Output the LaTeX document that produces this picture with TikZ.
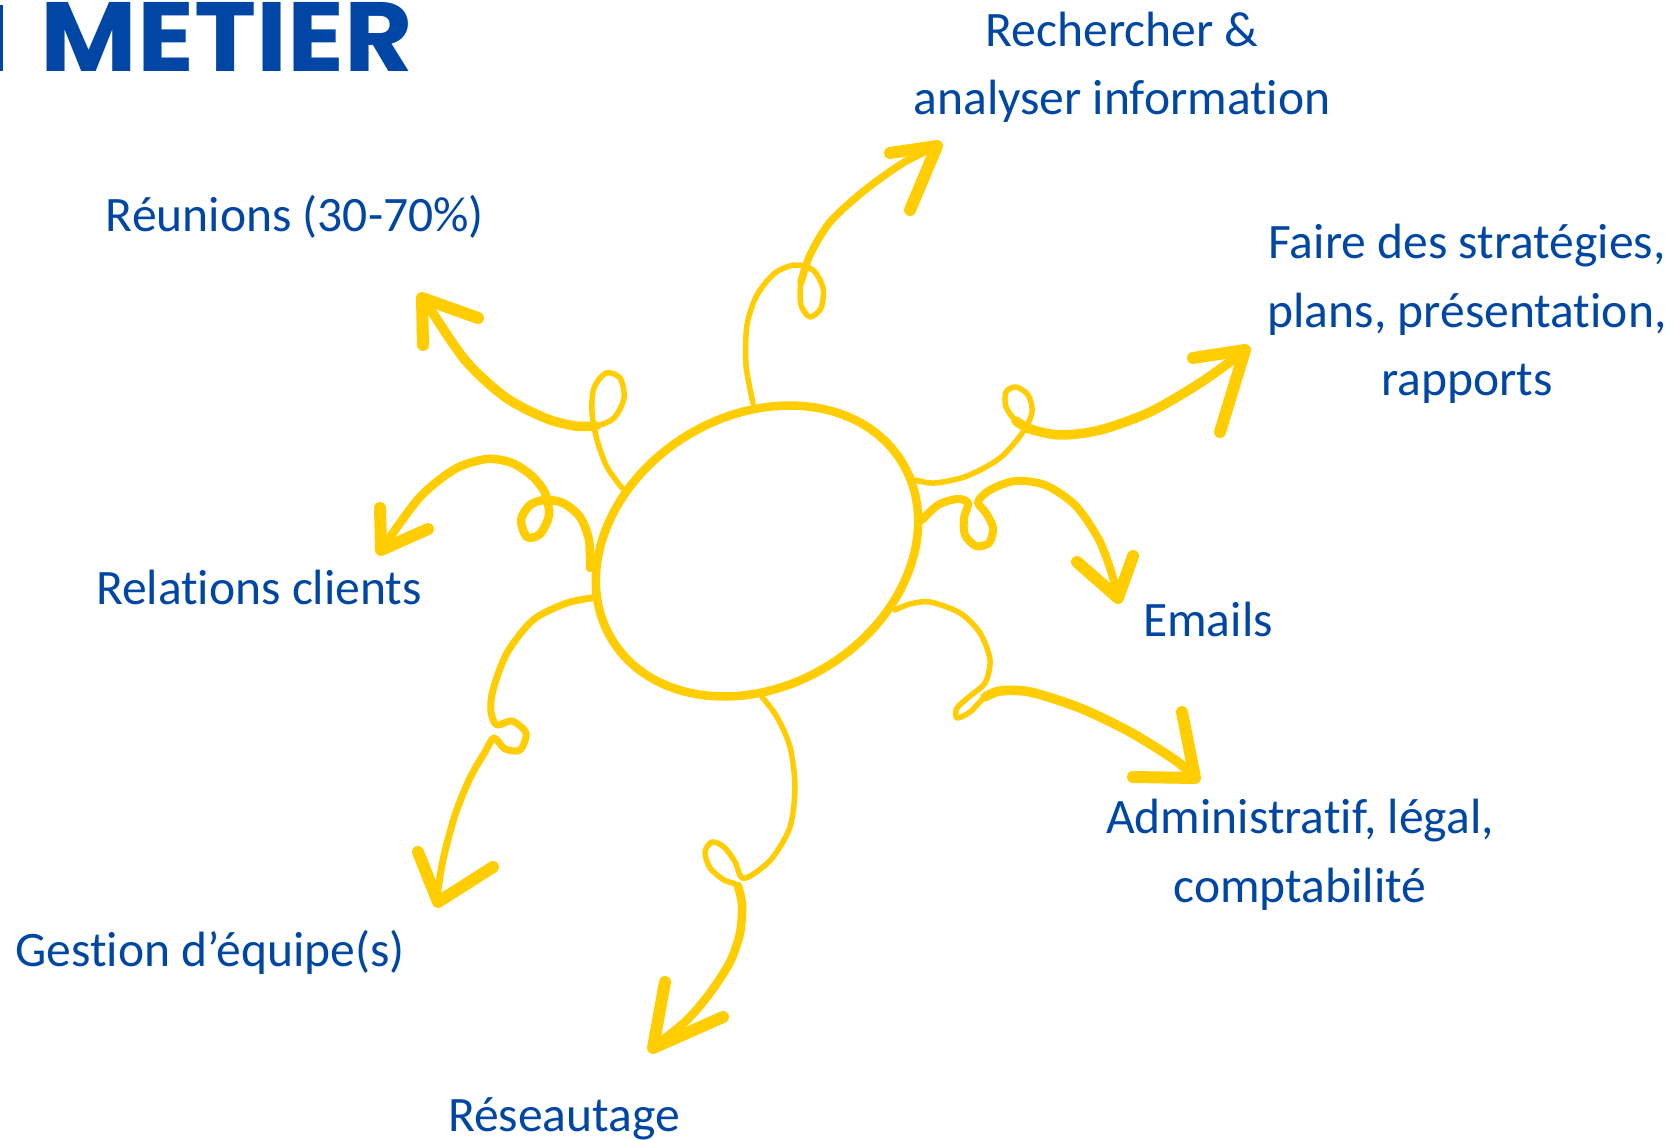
\documentclass[tikz,border=0pt]{standalone}
\usepackage{fontspec}
\setmainfont{Carlito}[Ligatures=NoCommon]
\newfontfamily\titlefont{Poppins}
\usetikzlibrary{positioning}
\definecolor{metierblue}{RGB}{0,71,165}
\definecolor{sunyellow}{RGB}{255,205,0}
\tikzset{
  tasktext/.style={text=metierblue, font=\fontsize{14.1pt}{19.6pt}\selectfont, align=center, inner sep=0pt, anchor=base},
  swirl/.style={draw=sunyellow, line width=0.55mm, line cap=round, line join=round},
  swirl thick/.style={swirl, line width=0.95mm},
  swirl head/.style={swirl, line width=1.2mm},
}
\begin{document}
\begin{tikzpicture}[x=0.1mm, y=-0.1mm]
  \useasboundingbox (0,0) rectangle (1676,1140);
  % title
  \fill[metierblue] (0,5) rectangle (3,71);
  \node[font=\titlefont\bfseries\fontsize{28pt}{28pt}\selectfont, text=metierblue, anchor=base west, inner sep=0pt] (metier) at (40,72) {\scalebox{1.07}[1]{METIER}};
  % centre
  \draw[swirl, line width=0.85mm, rotate around={31.6:(757,551)}] (757,551) ellipse [x radius=170, y radius=135];
  % labels
  \node[tasktext] (rech) at (1122,115) {Rechercher \&\\analyser information};
  \node[tasktext] (reun) at (295,232) {Réunions (30-70\%)};
  \node[tasktext] (faire) at (1467,396) {Faire des stratégies,\\plans, présentation,\\rapports};
  \node[tasktext] (rel) at (259,604) {Relations clients};
  \node[tasktext] (emails) at (1208,637) {Emails};
  \node[tasktext] (admin) at (1300,902) {Administratif, légal,\\comptabilité};
  \node[tasktext] (gest) at (210,966) {Gestion d’équipe(s)};
  \node[tasktext] (reseau) at (564,1131) {Réseautage};
  % reunions
  \draw[swirl] plot[smooth] coordinates {(622,488) (607,467) (597,440) (592,412) (594,388) (606,373) (620,378) (624,398) (614,418) (596,426) (575,426) (545,418)};
  \draw[swirl thick] plot[smooth] coordinates {(596,426) (575,426) (545,418) (505,397) (465,360) (427,304)};
  \draw[swirl head] (478,318) -- (422,298) -- (423,345);
  % recherche
  \draw[swirl] plot[smooth] coordinates {(753,403) (746,365) (747,325) (757,295) (775,273) (795,265) (813,270) (823,288) (821,308) (810,317) (801,305) (801,282) (810,255) (830,222)};
  \draw[swirl, line width=0.75mm] plot[smooth] coordinates {(801,282) (810,255) (830,222) (865,190) (903,163) (933,148)};
  \draw[swirl head] (890,153) -- (937,146) -- (910,210);
  % faire
  \draw[swirl] plot[smooth] coordinates {(915,480) (935,483) (967,476) (1000,458) (1023,432) (1032,412) (1028,395) (1016,387) (1006,392) (1006,407) (1016,421) (1030,429) (1060,435)};
  \draw[swirl thick] plot[smooth] coordinates {(1016,421) (1030,429) (1060,435) (1100,430) (1150,412) (1200,383) (1238,356)};
  \draw[swirl head] (1193,358) -- (1245,350) -- (1220,432);
  % emails
  \draw[swirl, line width=0.8mm] plot[smooth] coordinates {(922,520) (938,505) (957,499) (968,503) (964,518) (965,535) (976,546) (989,543) (993,528) (986,513) (978,502) (990,490) (1015,481) (1045,485) (1075,505) (1098,538) (1110,568) (1117,593)};
  \draw[swirl head] (1077,562) -- (1118,598) -- (1133,556);
  % admin
  \draw[swirl] plot[smooth] coordinates {(895,610) (910,604) (930,602) (960,613) (980,633) (990,660) (985,683) (970,696) (957,708) (957,718) (970,712) (985,697) (1000,691) (1030,692)};
  \draw[swirl thick] plot[smooth] coordinates {(985,697) (1000,691) (1030,692) (1080,708) (1130,732) (1175,760) (1192,775)};
  \draw[swirl head] (1133,777) -- (1195,778) -- (1182,712);
  % relations
  \draw[swirl thick, line width=0.85mm] plot[smooth] coordinates {(590,568) (589,540) (580,517) (563,503) (545,500) (530,505) (521,520) (527,537) (540,534) (549,515) (545,493) (532,476) (512,463) (487,459) (455,469) (420,497) (386,543)};
  \draw[swirl head] (380,508) -- (381,550) -- (428,529);
  % gestion
  \draw[swirl, line width=0.7mm] plot[smooth] coordinates {(598,597) (567,603) (533,620) (507,653) (493,690) (491,712) (497,725) (512,721) (526,733) (520,750) (505,749) (494,738) (485,752) (470,778) (455,815) (443,860) (437,897)};
  \draw[swirl head] (418,852) -- (438,902) -- (493,867);
  % reseau
  \draw[swirl] plot[smooth] coordinates {(762,697) (777,717) (790,747) (795,787) (790,827) (773,857) (755,873) (742,878) (735,862) (724,847) (712,842) (705,852) (710,868) (724,880) (738,886) (742,905)};
  \draw[swirl thick, line width=0.85mm] plot[smooth] coordinates {(738,886) (742,905) (740,933) (730,962) (710,993) (687,1020) (660,1042)};
  \draw[swirl head] (665,982) -- (653,1048) -- (723,1017);
\end{tikzpicture}
\end{document}
